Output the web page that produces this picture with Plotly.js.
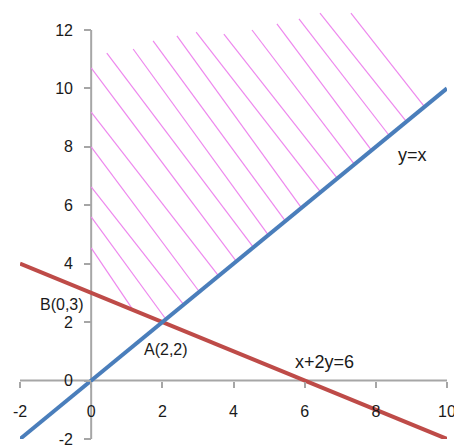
<!DOCTYPE html>
<html>
<head>
<meta charset="utf-8">
<script src="https://cdn.plot.ly/plotly-3.0.1.min.js"></script>
<style>
  html, body { margin: 0; padding: 0; background: #fff; }
  #plot { width: 454px; height: 445px; }
</style>
</head>
<body>
<div id="plot"></div>
<script>
// boundary lines
const lineX = [-2, 10];
const blueY = [-2, 10];   // y = x
const redY = [4, -2];     // x + 2y = 6

// hatch strokes (start on left edge / top, end on one of the lines)
const hatchX0 = [0, 0, 0, 0, 0, 0, 0.44, 1.18, 1.74, 2.41, 2.95, 3.73, 4.52, 5.22, 5.84, 6.43, 7.30];
const hatchY0 = [4.54, 5.60, 6.63, 8.00, 9.19, 10.70, 11.21, 11.35, 11.63, 11.80, 11.93, 11.86, 12.00, 12.21, 12.38, 12.58, 12.58];
const hatchX1 = [1.18, 2.07, 2.60, 3.04, 3.58, 4.08, 4.56, 4.98, 5.46, 5.91, 6.45, 6.92, 7.40, 7.88, 8.38, 8.86, 9.37];
const hatchY1 = [2.41, 2.15, 2.60, 3.04, 3.58, 4.08, 4.56, 4.98, 5.46, 5.91, 6.45, 6.92, 7.40, 7.88, 8.38, 8.86, 9.37];

// axis lines cross at origin
const axisYline = [-2, 12];
const axisXline = [-2, 10];

const xTicks = [-2, 0, 2, 4, 6, 8, 10];
const xTickText = ["-2", "0", "2", "4", "6", "8", "10"];
const yTicks = [-2, 0, 2, 4, 6, 8, 10, 12];
const yTickText = ["-2", "0", "2", "4", "6", "8", "10", "12"];

// labels
const labelText = ["y=x", "x+2y=6", "A(2,2)", "B(0,3)"];
const labelX = [9.02, 6.57, 2.10, -0.82];
const labelY = [7.72, 0.64, 1.05, 2.62];
const labelSize = [18, 18, 16, 16];

const yMin = -2, yMax = 12.65;

const hx = [], hy = [];
hatchX0.forEach((x0, i) => {
    hx.push(x0, hatchX1[i], null);
    hy.push(hatchY0[i], hatchY1[i], null);
});

const axisColor = "#a6a6a6";

const traces = [
    { x: [0, 0], y: axisYline, mode: "lines", line: { color: axisColor, width: 2 }, hoverinfo: "skip" },
    { x: axisXline, y: [0, 0], mode: "lines", line: { color: axisColor, width: 2 }, hoverinfo: "skip" },
    { x: hx, y: hy, mode: "lines", line: { color: "#ee88ee", width: 1.2 }, connectgaps: false },
    { x: lineX, y: redY, mode: "lines", line: { color: "#be4b48", width: 4 } },
    { x: lineX, y: blueY, mode: "lines", line: { color: "#4a7ebb", width: 4 } }
];

const tickFont = { family: "Liberation Sans, Arial, sans-serif", size: 16, color: "#1a1a1a" };

const layout = {
    width: 454,
    height: 445,
    margin: { l: 20, r: 7, t: 11, b: 6 },
    showlegend: false,
    paper_bgcolor: "#fff",
    plot_bgcolor: "#fff",
    xaxis: {
        range: [-2, 10],
        anchor: "free",
        position: (0 - yMin) / (yMax - yMin),
        showgrid: false, zeroline: false, showline: false,
        ticks: "outside", ticklen: 6, tickwidth: 2, tickcolor: axisColor,
        tickvals: xTicks, ticktext: xTickText, tickfont: tickFont,
        ticklabelstandoff: 10, ticklabeloverflow: "allow"
    },
    yaxis: {
        range: [yMin, yMax],
        anchor: "free",
        position: 2 / 12,
        showgrid: false, zeroline: false, showline: false,
        ticks: "outside", ticklen: 7, tickwidth: 2, tickcolor: axisColor,
        tickvals: yTicks, ticktext: yTickText, tickfont: tickFont,
        ticklabelstandoff: 8, ticklabeloverflow: "allow"
    },
    annotations: labelText.map((t, i) => ({
        x: labelX[i], y: labelY[i], xref: "x", yref: "y",
        text: t, showarrow: false,
        font: { family: "Liberation Sans, Arial, sans-serif", size: labelSize[i], color: "#1a1a1a" }
    }))
};

Plotly.newPlot("plot", traces, layout, { staticPlot: true });
</script>
</body>
</html>
